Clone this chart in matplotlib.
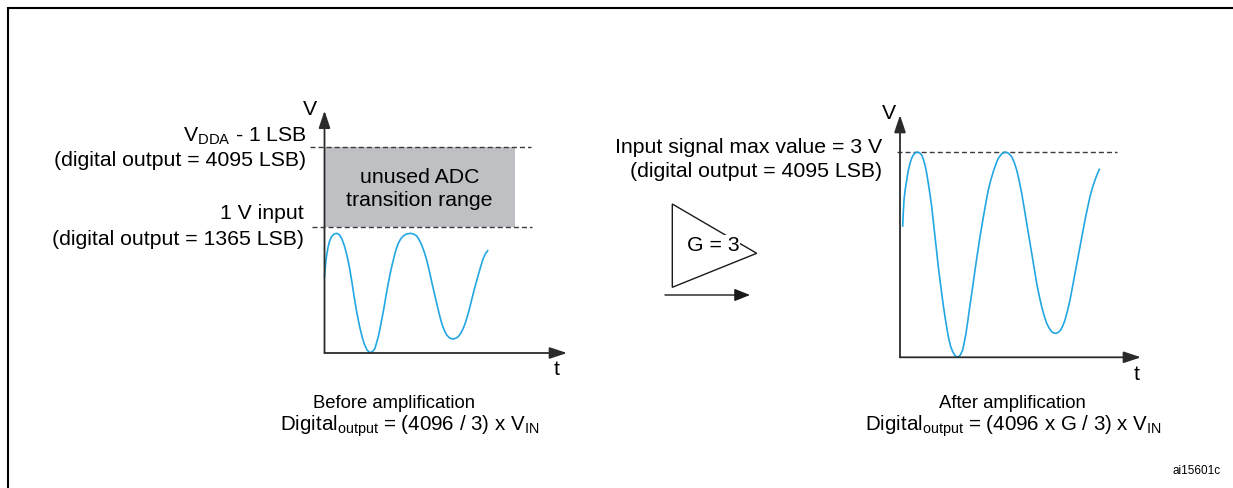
import matplotlib
matplotlib.use('Agg')
import matplotlib.pyplot as plt
from matplotlib.patches import Polygon, Rectangle

plt.rcParams['font.family'] = ['Liberation Sans', 'DejaVu Sans']
plt.rcParams['mathtext.fontset'] = 'custom'
plt.rcParams['mathtext.rm'] = 'Liberation Sans'
plt.rcParams['mathtext.it'] = 'Liberation Sans:italic'

# input signal before amplification (time units, volts; 1 V = 1365 LSB)
before_t = [0.0, 0.1, 0.2, 0.35, 0.5, 0.7, 0.95, 1.22, 1.5, 1.75, 2.0, 2.25, 2.5,
            2.75, 3.0, 3.25, 3.5, 3.75, 4.0, 4.25, 4.55, 4.8, 5.05, 5.2, 5.38, 5.55,
            5.72, 5.9, 6.05, 6.2, 6.38, 6.55, 6.72, 6.9, 7.05, 7.2, 7.38, 7.6, 7.88,
            8.2, 8.62, 8.95, 9.22, 9.47, 9.72, 9.97, 10.22, 10.47, 10.72, 10.97,
            11.22, 11.47, 11.72, 11.97, 12.22, 12.5, 12.82, 13.1, 13.38, 13.63, 13.88,
            14.13, 14.38, 14.63, 14.88, 15.13, 15.38, 15.63, 15.88, 16.1, 16.32]
before_v = [0.607, 0.700, 0.770, 0.840, 0.888, 0.926, 0.946, 0.952, 0.940, 0.905,
            0.850, 0.775, 0.680, 0.560, 0.430, 0.315, 0.215, 0.132, 0.068, 0.024,
            0.002, 0.012, 0.037, 0.080, 0.130, 0.195, 0.263, 0.340, 0.408, 0.478,
            0.554, 0.625, 0.687, 0.745, 0.793, 0.832, 0.873, 0.905, 0.931, 0.947,
            0.952, 0.945, 0.931, 0.900, 0.859, 0.805, 0.740, 0.657, 0.567, 0.480,
            0.395, 0.312, 0.236, 0.182, 0.143, 0.120, 0.111, 0.116, 0.130, 0.158,
            0.196, 0.250, 0.316, 0.395, 0.475, 0.550, 0.621, 0.690, 0.753, 0.790,
            0.814]

# signal after amplification, G = 3
after_t = [0.27, 0.33, 0.40, 0.5, 0.67, 0.83, 1.00, 1.17, 1.33, 1.53, 1.73, 1.95,
           2.17, 2.33, 2.50, 2.67, 2.83, 3.0, 3.17, 3.33, 3.50, 3.67, 3.83, 4.0,
           4.17, 4.33, 4.50, 4.67, 4.83, 5.05, 5.27, 5.5, 5.77, 6.02, 6.27, 6.43,
           6.60, 6.77, 6.93, 7.1, 7.27, 7.43, 7.60, 7.8, 8.00, 8.2, 8.40, 8.6, 8.83,
           9.08, 9.33, 9.58, 9.83, 10.15, 10.50, 10.83, 11.17, 11.42, 11.67, 11.92,
           12.17, 12.42, 12.67, 12.92, 13.17, 13.42, 13.67, 13.92, 14.17, 14.42,
           14.67, 14.92, 15.17, 15.38, 15.60, 15.83, 16.07, 16.28, 16.50, 16.75,
           17.00, 17.25, 17.50, 17.75, 18.00, 18.25, 18.50, 18.75, 19.00, 19.25,
           19.50, 19.72, 19.93]
after_v = [1.919, 2.12, 2.299, 2.43, 2.591, 2.73, 2.835, 2.91, 2.956, 2.988, 3.0,
           2.988, 2.956, 2.895, 2.810, 2.69, 2.543, 2.38, 2.201, 1.99, 1.762, 1.54,
           1.324, 1.125, 0.935, 0.76, 0.593, 0.44, 0.301, 0.165, 0.082, 0.025, 0.0,
           0.03, 0.107, 0.22, 0.351, 0.52, 0.691, 0.862, 1.032, 1.2, 1.374, 1.57,
           1.762, 1.935, 2.104, 2.27, 2.445, 2.59, 2.712, 2.82, 2.908, 2.97, 3.0,
           2.985, 2.931, 2.85, 2.737, 2.58, 2.397, 2.18, 1.958, 1.74, 1.520, 1.30,
           1.081, 0.90, 0.739, 0.605, 0.497, 0.425, 0.374, 0.355, 0.351, 0.365,
           0.399, 0.46, 0.545, 0.68, 0.837, 1.03, 1.228, 1.42, 1.616, 1.81, 2.006,
           2.18, 2.347, 2.48, 2.591, 2.675, 2.747]

input_level = 1.0    # 1 V input
vdda_level = 1.64    # V_DDA - 1 LSB (not to scale)
after_level = 3.0    # input signal max value

before_labels = ['V$_{\\mathrm{DDA}}$ - 1 LSB', '(digital output = 4095 LSB)',
                 '1 V input', '(digital output = 1365 LSB)']
after_labels = ['Input signal max value = 3 V', '(digital output = 4095 LSB)']
unused_label = ['unused ADC', 'transition range']
captions_before = ['Before amplification', 'Digital$_{\\mathrm{output}}$ = (4096 / 3) x V$_{\\mathrm{IN}}$']
captions_after = ['After amplification', 'Digital$_{\\mathrm{output}}$ = (4096 x G / 3) x V$_{\\mathrm{IN}}$']
gain_label = 'G = 3'
doc_id = 'ai15601c'

W, H = 1233, 488
WAVE = '#22a7e3'
AXIS = '#2b2b2b'
DASH = '#3a3a3a'
FS = 15.3

fig = plt.figure(figsize=(W / 100, H / 100), dpi=100)
canvas = fig.add_axes([0, 0, 1, 1])
canvas.set_xlim(0, W)
canvas.set_ylim(H, 0)
canvas.axis('off')
canvas.patch.set_visible(False)
canvas.set_zorder(5)


def panel(x0, y0, w, h):
    ax = fig.add_axes([x0 / W, (H - y0) / H, w / W, h / H])
    ax.axis('off')
    ax.patch.set_visible(False)
    return ax


def axis_arrows(ax):
    style = dict(arrowstyle='-|>,head_length=0.75,head_width=0.25', mutation_scale=14,
                 color=AXIS, lw=1.3, shrinkA=0, shrinkB=0)
    ax.annotate('', xy=(1, 0), xytext=(0, 0), xycoords='axes fraction', arrowprops=style)
    ax.annotate('', xy=(0, 1), xytext=(0, 0), xycoords='axes fraction', arrowprops=style)


# frame (top and left edges visible)
canvas.plot([7.7, W], [7.7, 7.7], color='black', lw=1.5, solid_capstyle='butt')
canvas.plot([7.7, 7.7], [7, H], color='black', lw=1.5, solid_capstyle='butt')

# before amplification
ax1 = panel(324.5, 353, 242.5, 242.3)
ax1.set_xlim(0, 24.25)
ax1.set_ylim(0, 242.3 / 125.7)
ax1.add_patch(Rectangle((0, input_level), 19.05, vdda_level - input_level,
                        facecolor='#bec0c4', edgecolor='none', zorder=0))
ax1.plot([-1.45, 20.65], [vdda_level, vdda_level], color=DASH, lw=1,
         linestyle=(0, (3.6, 2.2)), clip_on=False)
ax1.plot([-1.25, 20.75], [input_level, input_level], color=DASH, lw=1,
         linestyle=(0, (3.6, 2.2)), clip_on=False)
ax1.plot(before_t, before_v, color=WAVE, lw=1.2, clip_on=False)
axis_arrows(ax1)

# after amplification
ax2 = panel(900, 357.3, 241, 242.3)
ax2.set_xlim(0, 24.1)
ax2.set_ylim(0, 242.3 / 68.43)
ax2.plot([-0.3, 21.7], [after_level, after_level], color=DASH, lw=1,
         linestyle=(0, (3.6, 2.2)), clip_on=False)
ax2.plot(after_t, after_v, color=WAVE, lw=1.2, clip_on=False)
axis_arrows(ax2)

# left labels
canvas.text(306.5, 141.7, before_labels[0], ha='right', va='baseline', fontsize=FS)
canvas.text(306.5, 166, before_labels[1], ha='right', va='baseline', fontsize=FS)
canvas.text(303.5, 219.3, before_labels[2], ha='right', va='baseline', fontsize=FS)
canvas.text(303.5, 245, before_labels[3], ha='right', va='baseline', fontsize=FS)
canvas.text(419.5, 182.7, unused_label[0], ha='center', va='baseline', fontsize=FS)
canvas.text(419.5, 206.5, unused_label[1], ha='center', va='baseline', fontsize=FS)
canvas.text(310, 115, 'V', ha='center', va='baseline', fontsize=FS)
canvas.text(557, 375, 't', ha='center', va='baseline', fontsize=FS)

# right labels
canvas.text(882, 152.7, after_labels[0], ha='right', va='baseline', fontsize=FS)
canvas.text(882, 176.7, after_labels[1], ha='right', va='baseline', fontsize=FS)
canvas.text(889, 119, 'V', ha='center', va='baseline', fontsize=FS)
canvas.text(1137, 380, 't', ha='center', va='baseline', fontsize=FS)

# amplifier
canvas.add_patch(Polygon([(672.3, 204), (672.3, 287.3), (756.7, 253.3)], closed=True,
                         fill=False, edgecolor='#1a1a1a', lw=1))
canvas.text(713, 250.7, gain_label, ha='center', va='baseline', fontsize=FS,
            bbox=dict(facecolor='white', edgecolor='none', pad=0.5))
canvas.annotate('', xy=(750, 295), xytext=(665, 295),
                arrowprops=dict(arrowstyle='-|>,head_length=0.95,head_width=0.38',
                                mutation_scale=10, color='#1a1a1a', lw=1,
                                shrinkA=0, shrinkB=0))

# captions
canvas.text(394, 408, captions_before[0], ha='center', va='baseline', fontsize=13.3)
canvas.text(409.5, 431, captions_before[1], ha='center', va='baseline', fontsize=14.8)
canvas.text(1012, 408, captions_after[0], ha='center', va='baseline', fontsize=13.3)
canvas.text(1013, 431, captions_after[1], ha='center', va='baseline', fontsize=14.8)
canvas.text(1221, 474, doc_id, ha='right', va='baseline', fontsize=8.5)

fig.savefig('out.png', dpi=100)
